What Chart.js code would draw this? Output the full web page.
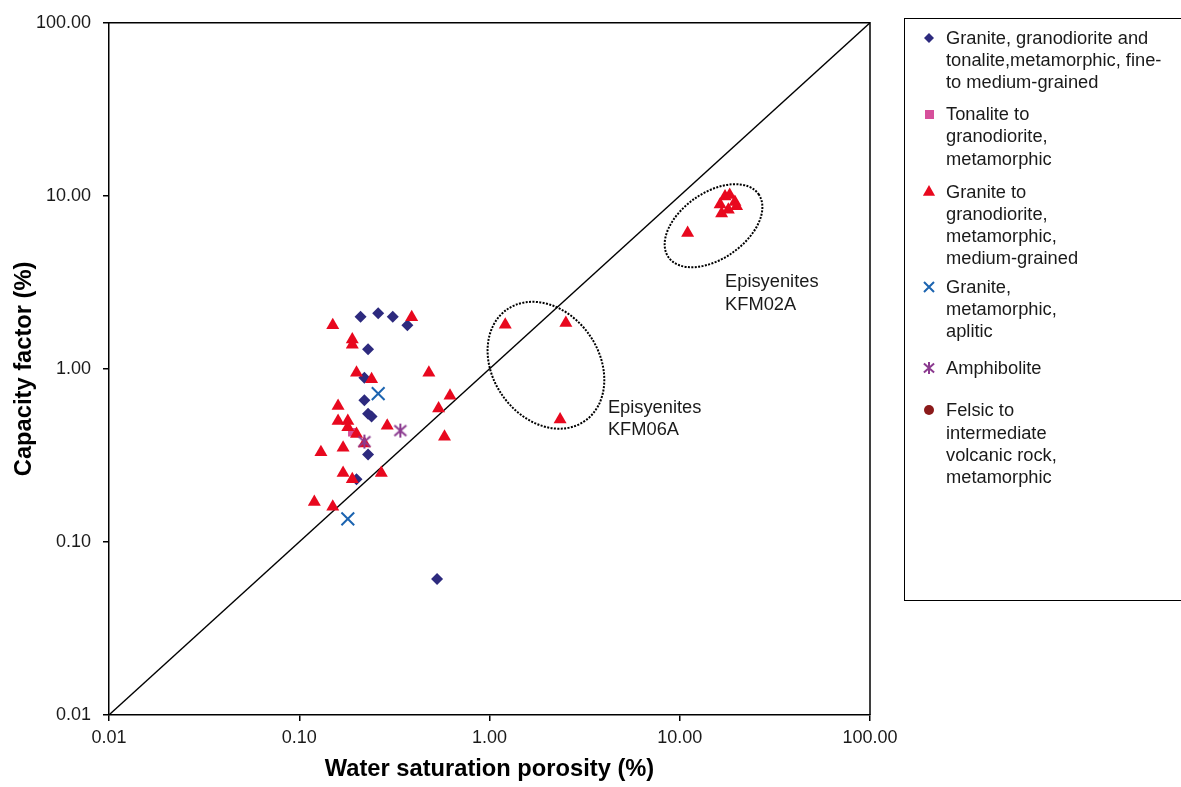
<!DOCTYPE html>
<html>
<head>
<meta charset="utf-8">
<title>Capacity factor vs water saturation porosity</title>
<script src="https://cdn.jsdelivr.net/npm/chart.js@4.4.1/dist/chart.umd.min.js"></script>
<style>
  body { margin: 0; background: #fff; font-family: "Liberation Sans", Arial, sans-serif; }
  #wrap { position: relative; width: 1181px; height: 787px; overflow: hidden; }
  #legend { position: absolute; left: 904px; top: 18px; width: 300px; height: 583px;
            border: 1.5px solid #000; box-sizing: border-box; }
  .item { position: relative; padding-left: 41px; font-size: 18.3px; line-height: 22.2px; color: #1a1a1a; }
  .item canvas { position: absolute; }
</style>
</head>
<body>
<div id="wrap">
  <canvas id="chart"></canvas>
  <div id="legend"></div>
</div>
<script>
// axis ticks
const tickValues = [0.01, 0.1, 1, 10, 100];
const tickLabels = ['0.01', '0.10', '1.00', '10.00', '100.00'];

// series names (legend lines)
const seriesNames = [
  ['Granite, granodiorite and', 'tonalite,metamorphic, fine-', 'to medium-grained'],
  ['Tonalite to', 'granodiorite,', 'metamorphic'],
  ['Granite to', 'granodiorite,', 'metamorphic,', 'medium-grained'],
  ['Granite,', 'metamorphic,', 'aplitic'],
  ['Amphibolite'],
  ['Felsic to', 'intermediate', 'volcanic rock,', 'metamorphic']
];

// water saturation porosity (%) / capacity factor (%)
const granFineX = [0.21, 0.26, 0.31, 0.37, 0.23, 0.22, 0.22, 0.23, 0.24, 0.23, 0.20, 0.53];
const granFineY = [2.00, 2.10, 2.00, 1.79, 1.30, 0.89, 0.66, 0.55, 0.53, 0.32, 0.23, 0.061];

const tonaliteX = [0.19];
const tonaliteY = [0.43];

const granMedX = [0.15, 0.39, 0.19, 0.19, 0.20, 0.24, 0.48, 0.62, 0.54, 0.16,
                  0.16, 0.18, 0.18, 0.20, 0.29, 0.58, 0.13, 0.17, 0.22, 0.17,
                  0.19, 0.27, 0.12, 0.15, 1.21, 2.52, 2.35, 11.0, 17.3, 18.3,
                  19.5, 16.3, 19.9, 16.6, 18.0];
const granMedY = [1.79, 1.99, 1.48, 1.38, 0.95, 0.87, 0.95, 0.70, 0.59, 0.61,
                  0.50, 0.50, 0.46, 0.42, 0.47, 0.405, 0.33, 0.35, 0.37, 0.25,
                  0.23, 0.25, 0.17, 0.16, 1.80, 1.84, 0.51, 6.1, 9.9, 10.1,
                  9.2, 8.9, 8.7, 7.9, 8.3];

const apliticX = [0.26, 0.18];
const apliticY = [0.72, 0.136];

const amphX = [0.34, 0.22];
const amphY = [0.44, 0.38];

const felsicX = [];
const felsicY = [];

// 1:1 line
const lineX = [0.01, 100];
const lineY = [0.01, 100];

// annotations
const noteTexts = [['Episyenites', 'KFM02A'], ['Episyenites', 'KFM06A']];
const noteX = [17.3, 4.19];
const noteY = [3.16, 0.595];
const ellipseX = [15.05, 1.98];
const ellipseY = [6.72, 1.05];

const seriesColors = ['#2D2A7E', '#D64F9B', '#E8081E', '#1C64B0', '#8B3A8F', '#8B1A1A'];
const markerKinds = ['diamond', 'square', 'triangle', 'x', 'asterisk', 'circle'];

function pts(xs, ys) { return xs.map((x, i) => ({ x: x, y: ys[i] })); }

function markerCanvas(kind, color, r) {
  const c = document.createElement('canvas');
  const s = Math.ceil(r * 2 + 4);
  c.width = s; c.height = s;
  const g = c.getContext('2d');
  g.translate(s / 2, s / 2);
  g.strokeStyle = color; g.fillStyle = color; g.lineWidth = 2;
  g.beginPath();
  if (kind === 'diamond') {
    g.moveTo(0, -r); g.lineTo(r, 0); g.lineTo(0, r); g.lineTo(-r, 0); g.closePath(); g.fill();
  } else if (kind === 'square') {
    g.fillRect(-r, -r, 2 * r, 2 * r);
  } else if (kind === 'triangle') {
    g.moveTo(0, -r); g.lineTo(r * 0.87, r * 0.55); g.lineTo(-r * 0.87, r * 0.55); g.closePath(); g.fill();
  } else if (kind === 'x') {
    g.moveTo(-r, -r); g.lineTo(r, r); g.moveTo(r, -r); g.lineTo(-r, r); g.stroke();
  } else if (kind === 'asterisk') {
    g.moveTo(-r * 0.85, -r * 0.75); g.lineTo(r * 0.85, r * 0.75);
    g.moveTo(r * 0.85, -r * 0.75); g.lineTo(-r * 0.85, r * 0.75);
    g.moveTo(0, -r); g.lineTo(0, r); g.stroke();
  } else if (kind === 'circle') {
    g.arc(0, 0, r, 0, Math.PI * 2); g.fill();
  }
  return c;
}

const asteriskImg = markerCanvas('asterisk', seriesColors[4], 7);

const overlay = {
  id: 'overlay',
  afterDatasetsDraw(chart) {
    const { ctx, chartArea: a, scales: { x, y } } = chart;
    ctx.save();
    // frame top/right
    ctx.strokeStyle = '#000'; ctx.lineWidth = 1.5;
    ctx.beginPath();
    ctx.moveTo(a.left, a.top); ctx.lineTo(a.right, a.top); ctx.lineTo(a.right, a.bottom);
    ctx.stroke();
    // dotted ellipses
    const shapes = [{ rx: 55, ry: 33, rot: -35 }, { rx: 68, ry: 53, rot: 55 }];
    ctx.setLineDash([2, 1.4]);
    ctx.lineWidth = 2;
    ellipseX.forEach((ex, i) => {
      ctx.beginPath();
      ctx.ellipse(x.getPixelForValue(ex), y.getPixelForValue(ellipseY[i]),
        shapes[i].rx, shapes[i].ry, shapes[i].rot * Math.PI / 180, 0, Math.PI * 2);
      ctx.stroke();
    });
    ctx.setLineDash([]);
    // text notes
    ctx.fillStyle = '#1a1a1a';
    ctx.font = '18.3px "Liberation Sans", Arial, sans-serif';
    ctx.textAlign = 'left'; ctx.textBaseline = 'middle';
    noteTexts.forEach((lines, i) => {
      const px = x.getPixelForValue(noteX[i]);
      const py = y.getPixelForValue(noteY[i]);
      lines.forEach((t, k) => ctx.fillText(t, px, py + k * 22.5));
    });
    ctx.restore();
  }
};

const tickFont = { family: '"Liberation Sans", Arial, sans-serif', size: 18 };
const titleFont = { family: '"Liberation Sans", Arial, sans-serif', size: 23.7, weight: 'bold', lineHeight: 1.2 };

function logAxis(extra) {
  return Object.assign({
    type: 'logarithmic',
    min: 0.01,
    max: 100,
    afterBuildTicks: s => { s.ticks = tickValues.map(v => ({ value: v })); },
    ticks: {
      autoSkip: false,
      color: '#1a1a1a',
      font: tickFont,
      maxRotation: 0,
      callback: v => tickLabels[tickValues.indexOf(v)]
    },
    grid: { drawOnChartArea: false, drawTicks: true, tickLength: 6, color: '#000', lineWidth: 1.5 },
    border: { display: true, color: '#000', width: 1.5 }
  }, extra);
}

const xAxis = logAxis({
  position: 'bottom',
  afterFit: s => { s.height = 72; },
  title: { display: true, text: 'Water saturation porosity (%)', color: '#000', font: titleFont, padding: { top: 0, bottom: 3 } }
});
xAxis.ticks.padding = 6;

const yAxis = logAxis({
  position: 'left',
  afterFit: s => { s.width = 109; },
  title: { display: true, text: 'Capacity factor (%)', color: '#000', font: titleFont, padding: { top: 10, bottom: 0 } }
});
yAxis.ticks.padding = 12;

new Chart(document.getElementById('chart'), {
  type: 'scatter',
  data: {
    datasets: [
      { label: '1:1', type: 'line', data: pts(lineX, lineY), borderColor: '#000', borderWidth: 1.3,
        pointRadius: 0, showLine: true, fill: false, order: 10 },
      { label: seriesNames[0].join(' '), data: pts(granFineX, granFineY), pointStyle: 'rectRot',
        pointRadius: 6, backgroundColor: seriesColors[0], borderColor: seriesColors[0], borderWidth: 0, order: 6 },
      { label: seriesNames[1].join(' '), data: pts(tonaliteX, tonaliteY), pointStyle: 'rect',
        pointRadius: 6, backgroundColor: seriesColors[1], borderColor: seriesColors[1], borderWidth: 0, order: 5 },
      { label: seriesNames[2].join(' '), data: pts(granMedX, granMedY), pointStyle: 'triangle',
        pointRadius: 7.5, backgroundColor: seriesColors[2], borderColor: seriesColors[2], borderWidth: 0, order: 4 },
      { label: seriesNames[3].join(' '), data: pts(apliticX, apliticY), pointStyle: 'crossRot',
        pointRadius: 9, backgroundColor: seriesColors[3], borderColor: seriesColors[3], borderWidth: 2, order: 3 },
      { label: seriesNames[4].join(' '), data: pts(amphX, amphY), pointStyle: asteriskImg,
        pointRadius: 7, backgroundColor: seriesColors[4], borderColor: seriesColors[4], order: 2 },
      { label: seriesNames[5].join(' '), data: pts(felsicX, felsicY), pointStyle: 'circle',
        pointRadius: 5, backgroundColor: seriesColors[5], borderColor: seriesColors[5], borderWidth: 0, order: 1 }
    ]
  },
  options: {
    responsive: true,
    maintainAspectRatio: false,
    animation: false,
    layout: { padding: { top: 20, right: 311, left: 0, bottom: 0 } },
    plugins: { legend: { display: false }, tooltip: { enabled: false } },
    scales: { x: xAxis, y: yAxis }
  },
  plugins: [overlay]
});

// legend box
const legendEl = document.getElementById('legend');
const itemGaps = [8, 9.5, 11, 6.5, 14.5, 20];
const legendMarkerSize = [5, 4.5, 7, 5, 6, 5];
seriesNames.forEach((lines, i) => {
  const div = document.createElement('div');
  div.className = 'item';
  div.style.marginTop = itemGaps[i] + 'px';
  const m = markerCanvas(markerKinds[i], seriesColors[i], legendMarkerSize[i]);
  m.style.left = (24 - m.width / 2) + 'px';
  m.style.top = (11.1 - m.height / 2) + 'px';
  div.appendChild(m);
  lines.forEach((t, k) => {
    if (k) div.appendChild(document.createElement('br'));
    div.appendChild(document.createTextNode(t));
  });
  legendEl.appendChild(div);
});
</script>
</body>
</html>
